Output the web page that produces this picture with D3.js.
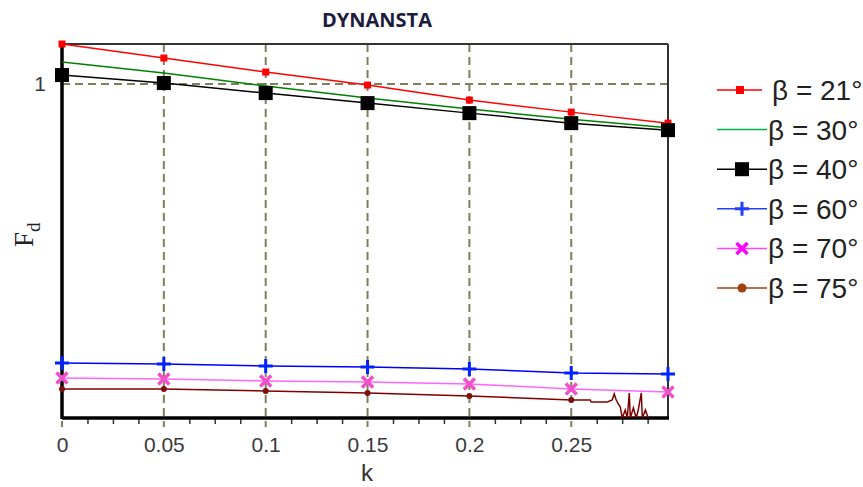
<!DOCTYPE html>
<html>
<head>
<meta charset="utf-8">
<script src="https://cdn.jsdelivr.net/npm/d3@7"></script>
<style>
  body { margin: 0; background: #fff; }
  svg { display: block; }
</style>
</head>
<body>
<svg class="chart" width="863" height="487"></svg>
<script>
  // values
  const kValues = [0, 0.05, 0.1, 0.15, 0.2, 0.25, 0.2975];
  const fd21 = [1.120, 1.078, 1.036, 0.997, 0.952, 0.916, 0.883];
  const fd30 = [1.066, 1.033, 0.994, 0.958, 0.925, 0.895, 0.869];
  const fd40 = [1.027, 1.003, 0.973, 0.943, 0.913, 0.883, 0.862];
  const fd60 = [0.165, 0.162, 0.156, 0.153, 0.147, 0.135, 0.132];
  const fd70 = [0.120, 0.117, 0.111, 0.108, 0.102, 0.087, 0.078];
  // beta = 75 breaks up near the end
  const k75 = [0, 0.05, 0.1, 0.15, 0.2, 0.25, 0.2593, 0.2598, 0.2677, 0.2701, 0.2711, 0.2721, 0.2731,
    0.2741, 0.2750, 0.2765, 0.2775, 0.2785, 0.2790, 0.2805, 0.2819, 0.2829, 0.2844, 0.2849, 0.2864, 0.2878];
  const fd75 = [0.087, 0.087, 0.081, 0.075, 0.066, 0.054, 0.054, 0.048, 0.048, 0.054, 0.072, 0.054, 0.042,
    0.033, 0, 0.024, 0, 0.075, 0, 0.030, 0, 0.024, 0.075, 0, 0.024, 0];
  const xTickLabels = ['0', '0.05', '0.1', '0.15', '0.2', '0.25'];
  const yTicks = [1];
  const legendLabels = ['β = 21°', 'β = 30°', 'β = 40°', 'β = 60°', 'β = 70°', 'β = 75°'];

  const svg = d3.select('.chart');
  const margin = { top: 44, left: 62, right: 195, bottom: 69 };
  const width = +svg.attr('width');
  const height = +svg.attr('height');
  const innerW = width - margin.left - margin.right;
  const innerH = height - margin.top - margin.bottom;

  const x = d3.scaleLinear().domain([0, 0.2975]).range([0, innerW]);
  const y = d3.scaleLinear().domain([0, 1.12]).range([innerH, 0]);

  svg.append('text')
    .attr('x', 377).attr('y', 27)
    .attr('text-anchor', 'middle')
    .style('font-family', 'Open Sans').style('font-weight', 700)
    .style('font-size', '20px').style('fill', '#1c1c3c')
    .text('DYNANSTA');

  const g = svg.append('g').attr('transform', `translate(${margin.left},${margin.top})`);

  svg.append('clipPath').attr('id', 'plot')
    .append('rect').attr('x', 0).attr('y', 0).attr('width', innerW).attr('height', innerH);

  const gridColor = '#7f7f5c';
  // vertical grid + extension below the axis
  g.append('g').selectAll('line').data(kValues.slice(0, 6))
    .enter().append('line')
      .attr('x1', d => x(d)).attr('x2', d => x(d))
      .attr('y1', 0).attr('y2', innerH + 9)
      .attr('stroke', gridColor).attr('stroke-width', 2)
      .attr('stroke-dasharray', '8,5');
  g.append('g').selectAll('line').data(yTicks)
    .enter().append('line')
      .attr('x1', 0).attr('x2', innerW)
      .attr('y1', d => y(d)).attr('y2', d => y(d))
      .attr('stroke', gridColor).attr('stroke-width', 2)
      .attr('stroke-dasharray', '8,5');

  // minor ticks
  const minor = d3.range(0, 0.29, 0.0125).filter(v => Math.abs(v / 0.05 - Math.round(v / 0.05)) > 0.01);
  const minorAxis = g.append('g').attr('transform', `translate(0,${innerH})`)
    .call(d3.axisBottom(x).tickValues(minor).tickSize(6).tickFormat(''));
  minorAxis.select('.domain').remove();
  minorAxis.selectAll('line').attr('stroke', '#333').attr('stroke-width', 1.5);

  const xAxis = g.append('g').attr('transform', `translate(0,${innerH})`)
    .call(d3.axisBottom(x).tickValues(kValues.slice(0, 6)).tickSize(0).tickPadding(19)
      .tickFormat((d, i) => xTickLabels[i]));
  xAxis.select('.domain').remove();
  xAxis.selectAll('text').style('font-family', 'Liberation Sans').style('font-size', '21px').attr('fill', '#3a3a3a');

  const yAxis = g.append('g')
    .call(d3.axisLeft(y).tickValues(yTicks).tickSize(0).tickPadding(16).tickFormat(d3.format('d')));
  yAxis.select('.domain').remove();
  yAxis.selectAll('text').style('font-family', 'Liberation Sans').style('font-size', '21px').attr('fill', '#3a3a3a');

  // frame
  g.append('line').attr('x1', 0).attr('x2', innerW).attr('y1', 0).attr('y2', 0).attr('stroke', '#333').attr('stroke-width', 2);
  g.append('line').attr('x1', innerW).attr('x2', innerW).attr('y1', 0).attr('y2', innerH).attr('stroke', '#333').attr('stroke-width', 2);
  g.append('line').attr('x1', 0).attr('x2', innerW + 1).attr('y1', innerH).attr('y2', innerH).attr('stroke', '#000').attr('stroke-width', 3.5);
  g.append('line').attr('x1', 0).attr('x2', 0).attr('y1', -1).attr('y2', innerH + 1).attr('stroke', '#000').attr('stroke-width', 3.5);

  const series = [
    { ks: kValues, vs: fd21, line: '#ff0000', mark: 'sq', mcol: '#ff0000', size: 7, n: 7 },
    { ks: kValues, vs: fd30, line: '#008000', mark: null, n: 0 },
    { ks: kValues, vs: fd40, line: '#000000', mark: 'sq', mcol: '#000000', size: 14, n: 7 },
    { ks: kValues, vs: fd60, line: '#0000ff', mark: 'plus', mcol: '#0022ff', size: 14, n: 7 },
    { ks: kValues, vs: fd70, line: '#ff66ff', mark: 'x', mcol: '#f050c8', size: 11, n: 7 },
    { ks: k75, vs: fd75, line: '#800000', mark: 'dot', mcol: '#7a1010', size: 6, n: 6 }
  ];

  const line = d3.line().x(d => x(d[0])).y(d => y(d[1]));
  const plot = g.append('g').attr('clip-path', 'url(#plot)');

  series.forEach(s => {
    const pts = s.ks.map((k, i) => [k, s.vs[i]]);
    plot.append('path').datum(pts)
      .attr('d', line).attr('fill', 'none')
      .attr('stroke', s.line).attr('stroke-width', 1.5);
  });

  function drawMark(sel, type, col, size) {
    const h = size / 2;
    if (type === 'sq') {
      sel.append('rect').attr('x', -h).attr('y', -h).attr('width', size).attr('height', size).attr('fill', col);
    } else if (type === 'plus') {
      sel.append('path').attr('d', `M${-h},0H${h}M0,${-h}V${h}`).attr('stroke', col).attr('stroke-width', 3);
    } else if (type === 'x') {
      sel.append('path').attr('d', `M${-h},${-h}L${h},${h}M${-h},${h}L${h},${-h}`).attr('stroke', col).attr('stroke-width', 3.5);
    } else if (type === 'dot') {
      sel.append('circle').attr('r', h).attr('fill', col);
    }
  }

  series.forEach(s => {
    if (!s.mark) return;
    const pts = s.ks.slice(0, s.n).map((k, i) => [k, s.vs[i]]);
    const m = g.append('g').selectAll('g').data(pts).enter().append('g')
      .attr('transform', d => `translate(${x(d[0])},${y(d[1])})`);
    m.each(function () { drawMark(d3.select(this), s.mark, s.mcol, s.size); });
  });

  // legend
  const legendLine = ['#ff0000', '#00b050', '#000000', '#1f3fff', '#ff44ff', '#a0400f'];
  const legendMark = ['#ff0000', null, '#000000', '#1f3fff', '#ff00ff', '#a0400f'];
  const legendSize = [8, 0, 14, 14, 11, 9];
  const lg = svg.append('g');
  legendLabels.forEach((lab, i) => {
    const ly = 90 + i * 39.6;
    const x2 = i === 0 ? 762 : 767;
    lg.append('line').attr('x1', 717).attr('x2', x2).attr('y1', ly).attr('y2', ly)
      .attr('stroke', legendLine[i]).attr('stroke-width', 1.5);
    if (legendMark[i]) {
      const mg = lg.append('g').attr('transform', `translate(${i === 0 ? 740 : 742},${ly})`);
      drawMark(mg, series[i].mark, legendMark[i], legendSize[i]);
    }
    lg.append('text').attr('x', i === 0 ? 772 : 768).attr('y', ly + 10)
      .style('font-family', 'Liberation Sans').style('font-size', '28px').attr('fill', '#222')
      .text(lab);
  });

  // axis titles
  svg.append('text').attr('x', 367).attr('y', 481).attr('text-anchor', 'middle')
    .style('font-family', 'Liberation Sans').style('font-size', '24px').attr('fill', '#333')
    .text('k');
  const yl = svg.append('text').attr('transform', 'translate(33,247) rotate(-90)')
    .style('font-family', 'Liberation Serif').style('font-size', '27px').attr('fill', '#222');
  yl.append('tspan').text('F');
  yl.append('tspan').attr('dy', 7).style('font-size', '19px').text('d');
</script>
</body>
</html>
